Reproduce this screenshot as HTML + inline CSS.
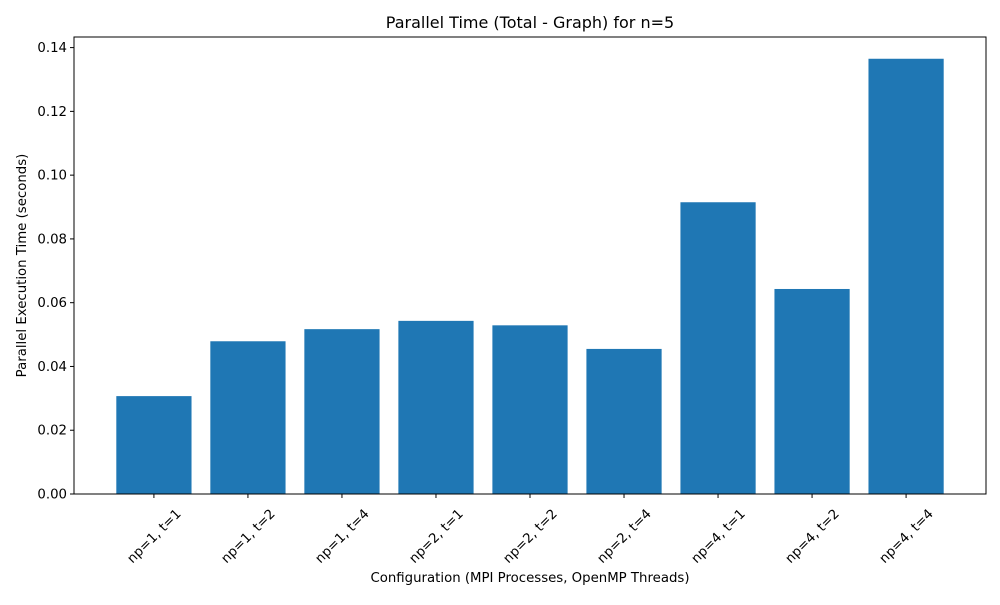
<!DOCTYPE html>
<html><head><meta charset="utf-8"><style>body{margin:0;background:#fff}svg{font-family:"DejaVu Sans","Liberation Sans",sans-serif}</style></head>
<body>
<svg id="chart" width="1000" height="600" xmlns="http://www.w3.org/2000/svg"></svg>
<script>
const categories = ["np=1, t=1","np=1, t=2","np=1, t=4","np=2, t=1","np=2, t=2","np=2, t=4","np=4, t=1","np=4, t=2","np=4, t=4"];
const values = [0.0307,0.0479,0.0517,0.0543,0.0529,0.0455,0.0915,0.0643,0.1365];
const yTicks = [0,0.02,0.04,0.06,0.08,0.10,0.12,0.14];
const yTickLabels = ["0.00","0.02","0.04","0.06","0.08","0.10","0.12","0.14"];

const svg = document.getElementById('chart');
const NS = 'http://www.w3.org/2000/svg';
const L = 74, R = 986, B = 494, T = 37;
const yMax = Math.max(...values) * 1.05;
const y = v => B - v / yMax * (B - T);
const step = (R - L) / (categories.length - 1 + 1.7);
const x = i => L + step * (0.85 + i);
function el(tag, attrs, text) {
  const e = document.createElementNS(NS, tag);
  for (const k in attrs) e.setAttribute(k, attrs[k]);
  if (text !== undefined) e.textContent = text;
  svg.appendChild(e);
  return e;
}
values.forEach((v, i) => {
  const r = el('rect', {x: x(i) - step * 0.4, y: y(v), width: step * 0.8, height: B - y(v), fill: '#1f77b4'});
  
  
});
const frame = el('rect', {x: L, y: T, width: R - L, height: B - T, fill: 'none', stroke: '#000', 'stroke-width': 1});


yTicks.forEach((t, i) => {
  el('line', {x1: L - 4, x2: L, y1: y(t), y2: y(t), stroke: '#000'});
  const lb = el('text', {x: L - 7, y: y(t) + 4.5, 'text-anchor': 'end', 'font-size': 13.3}, yTickLabels[i]);
  
  
});
categories.forEach((c, i) => {
  el('line', {x1: x(i), x2: x(i), y1: B, y2: B + 4, stroke: '#000'});
  const lb = el('text', {x: 0, y: 4.5, 'text-anchor': 'middle', 'font-size': 13.3, transform: `translate(${x(i)} ${B + 42}) rotate(-45)`}, c);
  
  
});
const title = el('text', {x: (L + R) / 2, y: 28, 'text-anchor': 'middle', 'font-size': 16}, 'Parallel Time (Total - Graph) for n=5');


const xt = el('text', {x: (L + R) / 2, y: 582, 'text-anchor': 'middle', 'font-size': 13.3}, 'Configuration (MPI Processes, OpenMP Threads)');


const yt = el('text', {x: 26, y: (T + B) / 2, 'text-anchor': 'middle', 'font-size': 13.3, transform: `rotate(-90 26 ${(T + B) / 2})`}, 'Parallel Execution Time (seconds)');


</script>
</body></html>
